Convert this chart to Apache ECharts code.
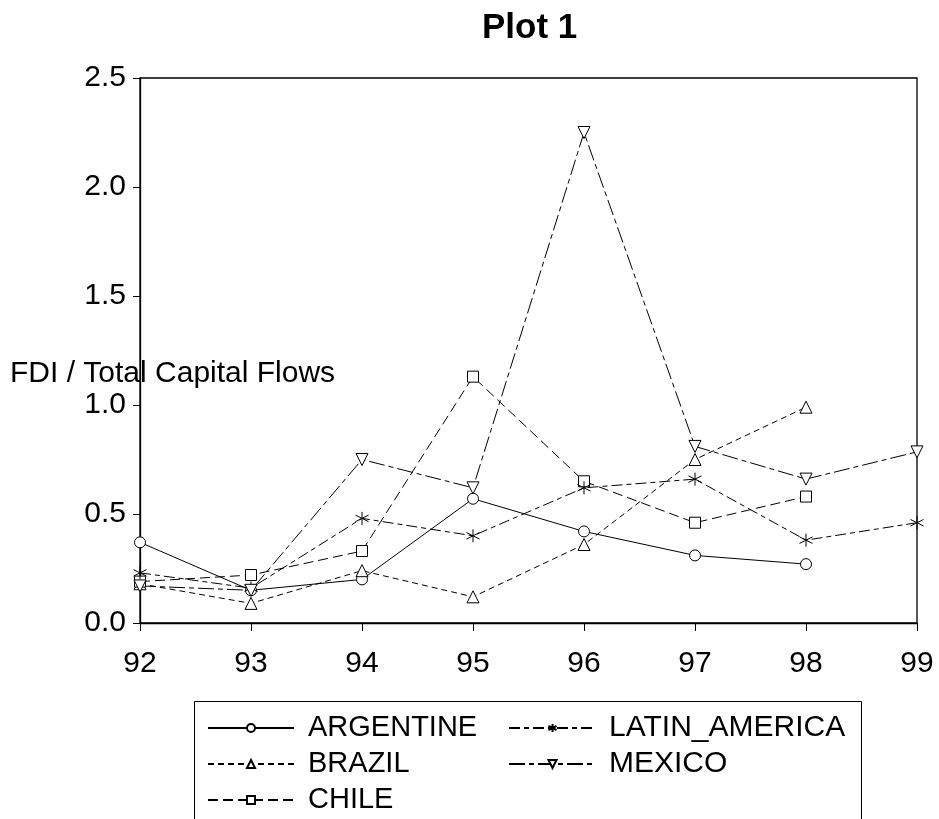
<!DOCTYPE html>
<html>
<head>
<meta charset="utf-8">
<script src="https://cdn.jsdelivr.net/npm/echarts@6/dist/echarts.min.js"></script>
<style>html,body{margin:0;padding:0;background:#fff}#c{width:939px;height:819px}</style>
</head>
<body>
<div id="c"></div>
<script>
const years = ['92','93','94','95','96','97','98','99'];
const argentine = [0.37, 0.15, 0.20, 0.57, 0.42, 0.31, 0.27, null];
const brazil = [0.18, 0.09, 0.24, 0.12, 0.36, 0.75, 0.99, null];
const chile = [0.19, 0.22, 0.33, 1.13, 0.65, 0.46, 0.58, null];
const latinAmerica = [0.23, 0.16, 0.48, 0.40, 0.62, 0.66, 0.38, 0.46];
const mexico = [0.17, 0.15, 0.75, 0.62, 2.25, 0.81, 0.66, 0.785];
const yTicks = [0, 0.5, 1.0, 1.5, 2.0, 2.5];

const FONT = 'Liberation Sans, Arial, sans-serif';
const STAR = 'path://M0,-1L0,1M-0.866,-0.5L0.866,0.5M-0.866,0.5L0.866,-0.5';
const DOWN = 'path://M0,0L2,0L1,1.75Z';

function mk(name, data, symbol, size, dash, fill) {
  return {
    name: name, type: 'line', data: data, symbol: symbol, symbolSize: size,
    showSymbol: true, animation: false,
    lineStyle: { color: '#000', width: 1, type: dash },
    itemStyle: { color: fill, borderColor: '#000', borderWidth: 1 }
  };
}

const chart = echarts.init(document.getElementById('c'), null, { renderer: 'canvas' });
chart.setOption({
  backgroundColor: '#fff',
  animation: false,
  title: { text: 'Plot 1', left: 482, top: 11, padding: 0,
    textStyle: { fontFamily: FONT, fontSize: 35, fontWeight: 'bold', color: '#000' } },
  grid: { left: 140, right: 22, top: 78, bottom: 196, show: true, borderColor: '#000', borderWidth: 1.3, backgroundColor: 'transparent' },
  xAxis: {
    type: 'category', data: years, boundaryGap: false,
    axisLine: { lineStyle: { color: '#000', width: 1.3 } },
    axisTick: { show: true, length: 8, lineStyle: { color: '#000' }, alignWithLabel: true },
    axisLabel: { color: '#000', fontFamily: FONT, fontSize: 30, margin: 26 },
    splitLine: { show: false }
  },
  yAxis: {
    type: 'value', min: yTicks[0], max: yTicks[yTicks.length - 1], interval: 0.5,
    axisLine: { show: true, lineStyle: { color: '#000', width: 1.3 } },
    axisTick: { show: true, length: 7, lineStyle: { color: '#000' } },
    axisLabel: { color: '#000', fontFamily: FONT, fontSize: 30, margin: 14, formatter: v => v.toFixed(1) },
    splitLine: { show: false }
  },
  legend: [
    { data: ['ARGENTINE', 'BRAZIL', 'CHILE'], orient: 'vertical', left: 207, top: 713, padding: 0,
      itemWidth: 86, itemHeight: 10, itemGap: 6,
      textStyle: { fontFamily: FONT, fontSize: 29, color: '#000', lineHeight: 30, padding: [0, 0, 0, 9] } },
    { data: ['LATIN_AMERICA', 'MEXICO'], orient: 'vertical', left: 508, top: 713, padding: 0,
      itemWidth: 87, itemHeight: 10, itemGap: 6,
      textStyle: { fontFamily: FONT, fontSize: 30, color: '#000', lineHeight: 30, padding: [0, 0, 0, 8] } }
  ],
  graphic: [
    { type: 'rect', shape: { x: 194.5, y: 701.5, width: 667, height: 140 }, style: { fill: 'none', stroke: '#000', lineWidth: 1 }, z: 1 },
    { type: 'text', left: 10, top: 359, style: { text: 'FDI / Total Capital Flows', font: '30px ' + FONT, fill: '#000' }, z: 100 }
  ],
  series: [
    mk('ARGENTINE', argentine, 'circle', 11, 'solid', '#fff'),
    mk('BRAZIL', brazil, 'triangle', 12, [6, 4], '#fff'),
    mk('CHILE', chile, 'rect', 11, [10, 5], '#fff'),
    mk('LATIN_AMERICA', latinAmerica, STAR, 13, [11, 4, 5, 4], '#000'),
    mk('MEXICO', mexico, DOWN, 12, [16, 4, 5, 4], '#fff')
  ]
});
</script>
</body>
</html>
